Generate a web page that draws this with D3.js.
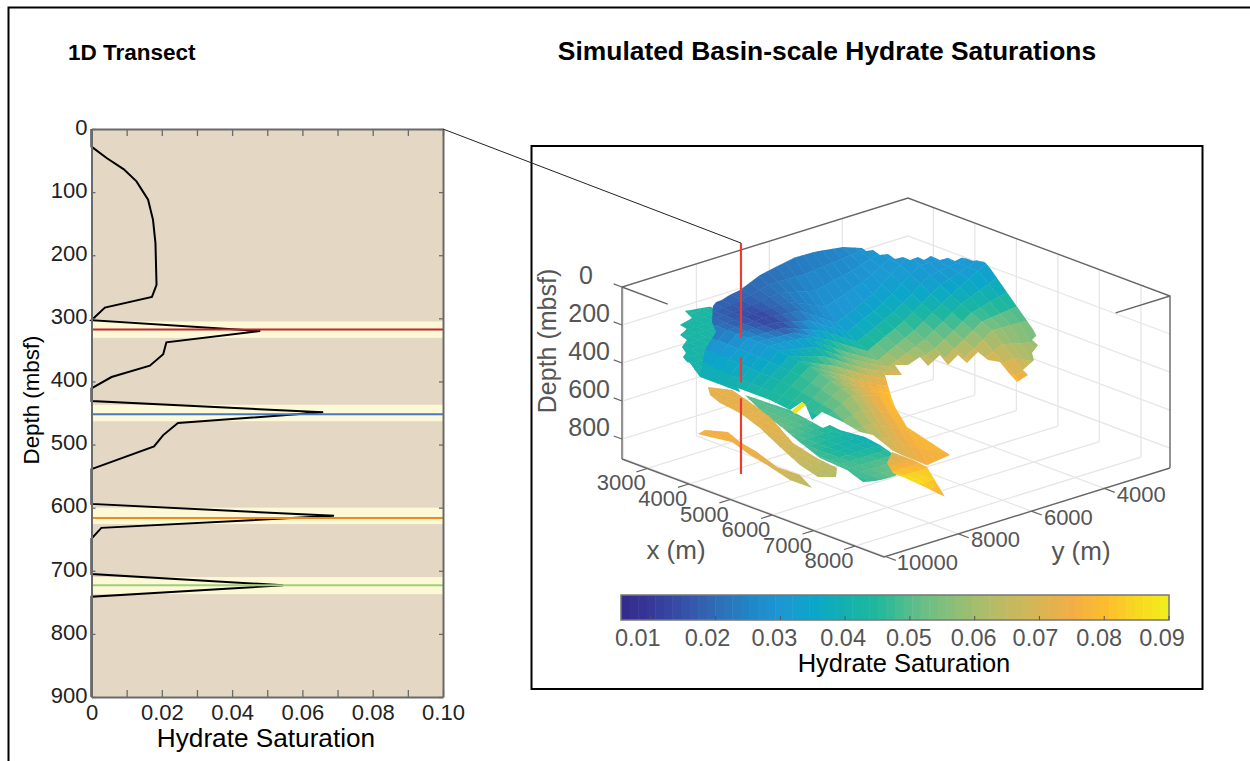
<!DOCTYPE html>
<html>
<head>
<meta charset="utf-8">
<script src="https://cdn.jsdelivr.net/npm/d3@7"></script>
<style>
  body { margin: 0; background: #fff; }
  svg { display: block; font-family: "Liberation Sans", Arial, sans-serif; }
</style>
</head>
<body>
<div id="chart"></div>
<script>
// 1D transect
const profileSat = [0, 0, .0043, .0092, .0128, .0161, .0175, .0182, .0185, .0172, .0038, 0, .048, .0213, .0204, .0166, .0057, 0, 0, .0659, .0246, .0204, .0178, 0, 0, .069, .0028, 0, 0, .0545, 0, 0];
const profileDepth = [0, 28, 46, 64, 83, 112, 144, 181, 247, 266, 283, 303, 320, 338, 357, 375, 393, 411, 431, 449, 466, 485, 503, 539, 594, 613, 632, 649, 705, 723, 741, 900];
const bandTop = [305, 437, 600, 710];
const bandBottom = [331, 463, 626, 737];
const layerDepth = [317.5, 452, 616.5, 723];
const layerColor = ["#c0272d", "#4a78c0", "#ee8a1e", "#9ccf78"];
const satTicks = d3.range(0, 11).map(i => i / 100);
const depthTicks = d3.range(0, 1000, 100);

// colour map
const colorStops = [.0054, .01, .015, .02, .025, .03, .035, .04, .045, .05, .055, .06, .065, .07, .075, .08, .085, .09];
const colorValues = ["#342a8a", "#36389a", "#3650a8", "#2f6cb6", "#2284c6", "#1d98d4", "#0ba6c9", "#14b0b0", "#1fb89c", "#58bd8d", "#7fbf7e", "#a3bd6e", "#c2ba62", "#d8b555", "#f2ae45", "#fdbc2e", "#f8d820", "#f1ee1c"];
const colorbarTicks = [.01, .02, .03, .04, .05, .06, .07, .08, .09];
const colorbarLabelShift = [-13, -8, -6, -2, -1, -1, -4, -5, -7];

// 3D axes
const xTicks3d = [3000, 4000, 5000, 6000, 7000, 8000];
const yTicks3d = [4000, 6000, 8000, 10000];
const zTicks3d = [0, 200, 400, 600, 800];

// red transect in the 3D view
const transectX = 4230;
const transectY = 8873;
const transectParts = [[-312, 185], [290, 421], [505, 903]];

// upper sheet, read on a coarse x/y grid
const mainX = [3000, 4000, 5000, 6000, 7000, 8000];
const mainY = [3000, 4000, 5000, 6000, 7000, 8000, 9000, 10000];
const mainDepth = [
  [60, 60, 42, 37, 74, 142, 147, 300],
  [120, 60, 208, 300, 174, 154, 158, 310],
  [79, 190, 316, 416, 303, 174, 158, 335],
  [300, 295, 426, 468, 405, 295, 184, 332],
  [680, 500, 474, 437, 405, 318, 258, 358],
  [700, 700, 700, 700, 690, 605, 468, 381]
];
const mainSatX = [3000, 3500, 4000, 4500, 5000, 5500, 6000, 7000, 8000];
const mainSat = [
  [.03, .03, .024, .022, .02, .019, .02, .04],
  [.03, .03, .028, .027, .022, .015, .02, .04],
  [.03, .03, .032, .03, .022, .012, .022, .04],
  [.03, .03, .04, .04, .033, .014, .028, .04],
  [.03, .037, .05, .058, .05, .03, .03, .042],
  [.04, .045, .058, .07, .06, .045, .036, .044],
  [.052, .057, .072, .075, .078, .065, .047, .044],
  [.07, .075, .09, .09, .085, .082, .06, .04],
  [.075, .075, .075, .075, .075, .075, .07, .05]
];
const mainEdge = [
  [3919, 9177, 0], [3785, 8393, 0], [3477, 7494, 0], [3204, 6635, 0], [3249, 5781, 0], [3401, 5132, 0],
  [3644, 4888, 0], [3793, 4948, 0], [3834, 4804, 0], [4087, 4899, 0], [4139, 4739, 0], [4392, 4834, 0],
  [4408, 4635, 0], [4591, 4650, 0], [4572, 4410, 0], [4744, 4441, 0], [4680, 4176, 0], [4919, 4201, 0],
  [4936, 4002, 0], [5118, 4017, 0], [5065, 3737, 0], [5315, 3748, 0], [5344, 3533, 0], [5747, 3773, 0],
  [6612, 3470, 300], [6734, 3745, 300], [6975, 3855, 300], [7191, 4265, 300], [7458, 4515, 300], [7689, 5080, 300],
  [7920, 5205, 300], [8045, 5649, 300], [7595, 5384, 300], [7156, 5104, 300], [6955, 5203, 300], [6565, 5033, 300],
  [6830, 5637, 300], [6451, 5452, 300], [6693, 6002, 300], [6254, 5721, 300], [6510, 6341, 300], [6105, 6100, 300],
  [6255, 6600, 300], [6113, 6794, 300], [6541, 7090, 300], [6355, 7344, 300], [7042, 7989, 300], [7589, 8474, 300],
  [8423, 9095, 300], [7874, 7292, 600], [8001, 8176, 600], [7064, 7959, 600], [6329, 7644, 600], [6082, 7718, 600],
  [5544, 7572, 600], [4963, 7487, 600], [5135, 7956, 600], [4577, 7486, 600], [4393, 7386, 600], [4543, 7885, 600],
  [3972, 7784, 600], [3133, 7788, 600], [2398, 7912, 600], [3507, 9037, 300], [4331, 9672, 100], [3936, 9332, 100],
  [3384, 8677, 100]
];

// teal lobe behind the upper sheet
const leftX = [2500, 6500];
const leftY = [8000, 11000];
const leftDepth = [[200, 200], [200, 200]];
const leftSat = [[.044, .044], [.04, .04]];
const leftEdge = [
  [2585, 8536, 200], [2716, 7917, 200], [3954, 9217, 200], [5366, 10193, 300], [4401, 10192, 300], [3800, 9781, 300],
  [4399, 10546, 200], [4180, 10406, 200], [4072, 10201, 200], [3818, 10021, 200], [3626, 9666, 200], [3375, 9571, 200],
  [3240, 9226, 200], [3023, 9171, 200], [2908, 8711, 200]
];

// middle sheet
const midX = [3500, 5000, 6500, 8000];
const midY = [7800, 8700, 9700];
const midDepth = [[600, 600, 600], [600, 600, 600], [600, 600, 600], [600, 600, 600]];
const midSat = [[.05, .05, .05], [.048, .052, .052], [.038, .042, .052], [.055, .055, .045]];
const midEdge = [
  [3524, 7958, 600], [4543, 7885, 600], [5205, 8036, 600], [5536, 8112, 600], [5508, 7887, 600], [5793, 7937, 600],
  [6165, 7868, 600], [6313, 7843, 600], [6758, 7939, 600], [7113, 8069, 600], [7628, 8245, 600], [8046, 8994, 600],
  [7968, 9454, 600], [7872, 9673, 600], [7275, 9433, 600], [6557, 9356, 600], [5674, 8981, 600], [5098, 8710, 600],
  [4445, 8459, 600]
];

// orange ribbon
const ribbonX = [2500, 5000, 7500];
const ribbonY = [7500, 10500];
const ribbonDepth = [[600, 600], [600, 600], [600, 600]];
const ribbonSat = [[.073, .073], [.072, .072], [.062, .062]];
const ribbonEdge = [
  [2838, 8192, 600], [3206, 7953, 600], [3721, 8129, 600], [4570, 8464, 600], [5066, 8755, 600], [5735, 9160, 600],
  [6524, 9401, 600], [7095, 9502, 600], [7400, 9877, 600], [7203, 10146, 600], [6584, 9936, 600], [5734, 9515, 600],
  [4847, 9054, 600], [4101, 8753, 600], [3531, 8652, 600], [3141, 8482, 600]
];

// lowest ribbon
const lowX = [2800, 4500, 6300];
const lowY = [8000, 9300];
const lowDepth = [[800, 800], [800, 800], [800, 800]];
const lowSat = [[.076, .076], [.074, .074], [.062, .062]];
const lowEdge = [
  [2980, 8437, 800], [3302, 8173, 800], [3785, 8393, 800], [4322, 8539, 800], [5068, 8840, 800], [5601, 8816, 800],
  [6189, 9156, 800], [5667, 9165, 800], [4888, 8909, 800], [4351, 8764, 800], [3698, 8513, 800], [3281, 8642, 800],
  [3045, 8702, 800]
];

// yellow tongue at the front
const tongueX = [5500, 7000, 8000];
const tongueY = [6500, 7500];
const tongueDepth = [[800, 800], [800, 800], [800, 800]];
const tongueSat = [[.065, .065], [.082, .088], [.072, .075]];
const tongueEdge = [
  [5799, 6519, 800], [6310, 6525, 800], [6709, 6596, 800], [7961, 7526, 800], [7447, 7436, 800], [6798, 7355, 800],
  [6548, 7344, 800], [6131, 7034, 800]
];

// small yellow patch
const patchX = [4000, 5000];
const patchY = [7000, 8500];
const patchDepth = [[600, 600], [600, 600]];
const patchSat = [[.087, .087], [.087, .087]];
const patchEdge = [[4600, 7895, 600], [4393, 7386, 600], [4542, 7446, 600], [4738, 7970, 600]];

const sheets = [
  { x: leftX, y: leftY, depth: leftDepth, satX: leftX, sat: leftSat, edge: leftEdge },
  { x: midX, y: midY, depth: midDepth, satX: midX, sat: midSat, edge: midEdge },
  { x: ribbonX, y: ribbonY, depth: ribbonDepth, satX: ribbonX, sat: ribbonSat, edge: ribbonEdge },
  { x: lowX, y: lowY, depth: lowDepth, satX: lowX, sat: lowSat, edge: lowEdge },
  { x: mainX, y: mainY, depth: mainDepth, satX: mainSatX, sat: mainSat, edge: mainEdge },
  { x: tongueX, y: tongueY, depth: tongueDepth, satX: tongueX, sat: tongueSat, edge: tongueEdge },
  { x: patchX, y: patchY, depth: patchDepth, satX: patchX, sat: patchSat, edge: patchEdge }
];

const svg = d3.select("#chart").append("svg").attr("width", 1250).attr("height", 761);
const inkGrey = "#555";

const color = d3.scaleLinear().domain(colorStops).range(colorValues).interpolate(d3.interpolateRgb);

// page frame and titles
svg.append("path").attr("d", "M8.5,761V7.5H1250").attr("fill", "none").attr("stroke", "#000").attr("stroke-width", 2);
svg.append("text").attr("x", 68).attr("y", 60).attr("font-size", 22.5).attr("font-weight", "bold").text("1D Transect");
svg.append("text").attr("x", 827).attr("y", 60).attr("text-anchor", "middle").attr("font-size", 26.4).attr("font-weight", "bold").text("Simulated Basin-scale Hydrate Saturations");

// ---- left panel ----
const plot = { left: 91.5, right: 443, top: 129, bottom: 697 };
const xSat = d3.scaleLinear().domain([0, .1]).range([plot.left, plot.right]);
const yDepth = d3.scaleLinear().domain([0, 900]).range([plot.top, plot.bottom]);

svg.append("rect").attr("x", plot.left).attr("y", plot.top)
  .attr("width", plot.right - plot.left).attr("height", plot.bottom - plot.top).attr("fill", "#e4d8c5");

svg.selectAll(".band").data(bandTop).join("rect").attr("class", "band")
  .attr("x", plot.left).attr("width", plot.right - plot.left)
  .attr("y", d => yDepth(d)).attr("height", (d, i) => yDepth(bandBottom[i]) - yDepth(d))
  .attr("fill", "#fdf9d6");

const line = d3.line().x(d => xSat(d[0])).y(d => yDepth(d[1]));
svg.append("path").attr("d", line(profileSat.map((s, i) => [s, profileDepth[i]])))
  .attr("fill", "none").attr("stroke", "#000").attr("stroke-width", 2);

svg.selectAll(".layer").data(layerDepth).join("line").attr("class", "layer")
  .attr("x1", plot.left).attr("x2", plot.right)
  .attr("y1", d => yDepth(d)).attr("y2", d => yDepth(d))
  .attr("stroke", (d, i) => layerColor[i]).attr("stroke-width", 2);

function styleAxis(g) {
  g.selectAll(".domain").attr("stroke", "#6a6a6a").attr("stroke-width", 2);
  g.selectAll(".tick line").attr("stroke", "#6a6a6a").attr("stroke-width", 1.3);
  g.selectAll("text").attr("font-size", 22).attr("fill", "#222").attr("font-family", "Liberation Sans");
}
const satLabel = d => {
  const n = Math.round(d * 100);
  if (n % 2) return "";
  return n === 0 ? "0" : d.toFixed(2);
};
svg.append("g").attr("transform", `translate(0,${plot.bottom})`)
  .call(d3.axisBottom(xSat).tickValues(satTicks).tickSize(-7).tickSizeOuter(0).tickPadding(7).tickFormat(satLabel))
  .call(styleAxis);
svg.append("g").attr("transform", `translate(0,${plot.top})`)
  .call(d3.axisTop(xSat).tickValues(satTicks).tickSize(-7).tickSizeOuter(0).tickFormat(""))
  .call(styleAxis);
svg.append("g").attr("transform", `translate(${plot.left},0)`)
  .call(d3.axisLeft(yDepth).tickValues(depthTicks).tickSize(-4).tickSizeOuter(0).tickPadding(4))
  .call(styleAxis)
  .call(g => g.selectAll("text").attr("dy", "0.24em"));
svg.append("g").attr("transform", `translate(${plot.right},0)`)
  .call(d3.axisRight(yDepth).tickValues(depthTicks).tickSize(-4).tickSizeOuter(0).tickFormat(""))
  .call(styleAxis);

svg.append("text").attr("x", 266).attr("y", 747).attr("text-anchor", "middle").attr("font-size", 26.2).text("Hydrate Saturation");
svg.append("text").attr("transform", "translate(39,400) rotate(-90)").attr("text-anchor", "middle").attr("font-size", 22.3).text("Depth (mbsf)");

// ---- right panel ----
svg.append("rect").attr("x", 531.5).attr("y", 146).attr("width", 671).attr("height", 543)
  .attr("fill", "none").attr("stroke", "#000").attr("stroke-width", 2);

// box projection: x runs to the lower right, y to the lower left, depth straight down
const xUnit = d3.scaleLinear().domain([2390, 8700]).range([0, 1]);
const yUnit = d3.scaleLinear().domain([2200, 10040]).range([0, 1]);
const zUnit = d3.scaleLinear().domain([0, 905]).range([0, 172]);
const project = (x, y, z) => [
  908 + 262 * xUnit(x) - 286 * yUnit(y),
  198 + 98 * xUnit(x) + 89 * yUnit(y) + zUnit(z)
];
const [xMin, xMax] = xUnit.domain();
const [yMin, yMax] = yUnit.domain();
const zMax = zUnit.domain()[1];

const path3d = d3.line();
const segs = (pts) => path3d(pts.map(p => project(p[0], p[1], p[2])));

// walls and floor
const gridSegs = [];
xTicks3d.forEach(x => {
  gridSegs.push([[x, yMin, 0], [x, yMin, zMax]]);
  gridSegs.push([[x, yMin, zMax], [x, yMax, zMax]]);
});
yTicks3d.forEach(y => {
  gridSegs.push([[xMin, y, 0], [xMin, y, zMax]]);
  gridSegs.push([[xMin, y, zMax], [xMax, y, zMax]]);
});
zTicks3d.slice(1).forEach(z => {
  gridSegs.push([[xMin, yMax, z], [xMin, yMin, z], [xMax, yMin, z]]);
});
svg.append("g").selectAll("path").data(gridSegs).join("path")
  .attr("d", segs).attr("fill", "none").attr("stroke", "#e6e6e6").attr("stroke-width", 1.3);

// box edges
const edgeSegs = [
  [[xMin, yMax, zMax], [xMin, yMax, 0], [xMin, yMin, 0], [xMax, yMin, 0], [xMax, yMin, zMax]],
  [[xMin, yMax, zMax], [xMax, yMax, zMax], [xMax, yMin, zMax]],
  [[xMin, yMax, 0], [xMin + 1100, yMax, 0]],
  [[xMax, yMin, 0], [xMax, yMin + 1490, 0]]
];
svg.append("g").selectAll("path").data(edgeSegs).join("path")
  .attr("d", segs).attr("fill", "none").attr("stroke", "#666").attr("stroke-width", 1.4);

// tick stubs point out of the box
const tickSegs = [];
xTicks3d.forEach(x => tickSegs.push([[x, yMax, zMax], [x, yMax + 300, zMax]]));
yTicks3d.forEach(y => tickSegs.push([[xMax, y, zMax], [xMax + 250, y, zMax]]));
zTicks3d.forEach(z => tickSegs.push([[xMin, yMax, z], [xMin - 200, yMax, z]]));
svg.append("g").selectAll("path").data(tickSegs).join("path")
  .attr("d", segs).attr("fill", "none").attr("stroke", "#666").attr("stroke-width", 1.2);

// surfaces, flat shaded on a 250 m lattice and cut along the traced edges
function bilinear(xs, ys, grid, x, y) {
  const i = Math.max(0, Math.min(xs.length - 2, d3.bisectRight(xs, x) - 1));
  const j = Math.max(0, Math.min(ys.length - 2, d3.bisectRight(ys, y) - 1));
  const tx = Math.max(0, Math.min(1, (x - xs[i]) / (xs[i + 1] - xs[i])));
  const ty = Math.max(0, Math.min(1, (y - ys[j]) / (ys[j + 1] - ys[j])));
  const top = grid[i][j] + (grid[i][j + 1] - grid[i][j]) * ty;
  const bot = grid[i + 1][j] + (grid[i + 1][j + 1] - grid[i + 1][j]) * ty;
  return top + (bot - top) * tx;
}

const defs = svg.append("defs");
const step = 250;
sheets.forEach((sheet, n) => {
  defs.append("clipPath").attr("id", `sheet-${n}`).append("path")
    .attr("d", segs(sheet.edge) + "Z");

  const cells = [];
  const xLast = sheet.x[sheet.x.length - 1];
  const yLast = sheet.y[sheet.y.length - 1];
  for (let x = sheet.x[0]; x < xLast; x += step) {
    for (let y = sheet.y[0]; y < yLast; y += step) {
      const corner = (cx, cy) => [cx, cy, bilinear(sheet.x, sheet.y, sheet.depth, cx, cy)];
      cells.push({
        pts: [corner(x, y), corner(x + step, y), corner(x + step, y + step), corner(x, y + step)],
        sat: bilinear(sheet.satX, sheet.y, sheet.sat, x + step / 2, y + step / 2)
      });
    }
  }
  svg.append("g").attr("clip-path", `url(#sheet-${n})`)
    .selectAll("path").data(cells).join("path")
    .attr("d", d => segs(d.pts) + "Z")
    .attr("fill", d => color(d.sat))
    .attr("stroke", d => color(d.sat))
    .attr("stroke-width", 0.5);
});

// transect and its leader to the left panel
const transectTop = project(transectX, transectY, transectParts[0][0]);
svg.append("line").attr("x1", plot.right).attr("y1", plot.top)
  .attr("x2", transectTop[0]).attr("y2", transectTop[1])
  .attr("stroke", "#222").attr("stroke-width", 1);
svg.append("g").selectAll("path").data(transectParts).join("path")
  .attr("d", d => segs([[transectX, transectY, d[0]], [transectX, transectY, d[1]]]))
  .attr("stroke", "#ee3a2f").attr("stroke-width", 2.2);

// 3D tick labels
const label3d = (x, y, txt, size, anchor) => svg.append("text")
  .attr("x", x).attr("y", y).attr("text-anchor", anchor || "middle")
  .attr("font-size", size).attr("fill", inkGrey).text(txt);

const zLabelShift = [-17, 0, 0, 0, 0];
zTicks3d.forEach((z, i) => {
  const p = project(xMin, yMax, z);
  label3d(p[0] - 12 + zLabelShift[i], p[1] - 6, z, 25, "end").attr("dy", "0.1em");
});
xTicks3d.forEach(x => {
  const p = project(x, yMax, zMax);
  label3d(p[0] - 26, p[1] + 22, x, 22);
});
yTicks3d.forEach(y => {
  const p = project(xMax, y, zMax);
  label3d(p[0] + (y === 10000 ? 42 : 37), p[1] + 13.5, y, 22);
});
label3d(676, 559, "x (m)", 26);
label3d(1081, 560, "y (m)", 26);
svg.append("text").attr("transform", "translate(556,341) rotate(-90)").attr("text-anchor", "middle")
  .attr("font-size", 25).attr("fill", inkGrey).text("Depth (mbsf)");

// colour bar
const bar = { left: 621, right: 1169, top: 595, bottom: 620 };
const barScale = d3.scaleLinear().domain([colorStops[0], .09]).range([bar.left, bar.right]);
const barCells = d3.range(64).map(i => colorStops[0] + (i + 0.5) * (.09 - colorStops[0]) / 64);
const barW = (bar.right - bar.left) / 64;
svg.append("g").selectAll("rect").data(barCells).join("rect")
  .attr("x", d => barScale(d) - barW / 2).attr("width", barW + 0.5)
  .attr("y", bar.top).attr("height", bar.bottom - bar.top)
  .attr("fill", d => color(d));
svg.append("rect").attr("x", bar.left).attr("y", bar.top)
  .attr("width", bar.right - bar.left).attr("height", bar.bottom - bar.top)
  .attr("fill", "none").attr("stroke", "#777").attr("stroke-width", 1.5);
svg.append("g").selectAll("line").data(colorbarTicks).join("line")
  .attr("x1", d => barScale(d)).attr("x2", d => barScale(d))
  .attr("y1", bar.bottom).attr("y2", bar.bottom - 4)
  .attr("stroke", "#555");
svg.append("g").selectAll("text").data(colorbarTicks).join("text")
  .attr("x", (d, i) => barScale(d) + colorbarLabelShift[i]).attr("y", 646)
  .attr("text-anchor", "middle").attr("font-size", 23.5).attr("fill", inkGrey)
  .text(d => d.toFixed(2));
svg.append("text").attr("x", 904).attr("y", 672).attr("text-anchor", "middle")
  .attr("font-size", 25.5).text("Hydrate Saturation");
</script>
</body>
</html>
